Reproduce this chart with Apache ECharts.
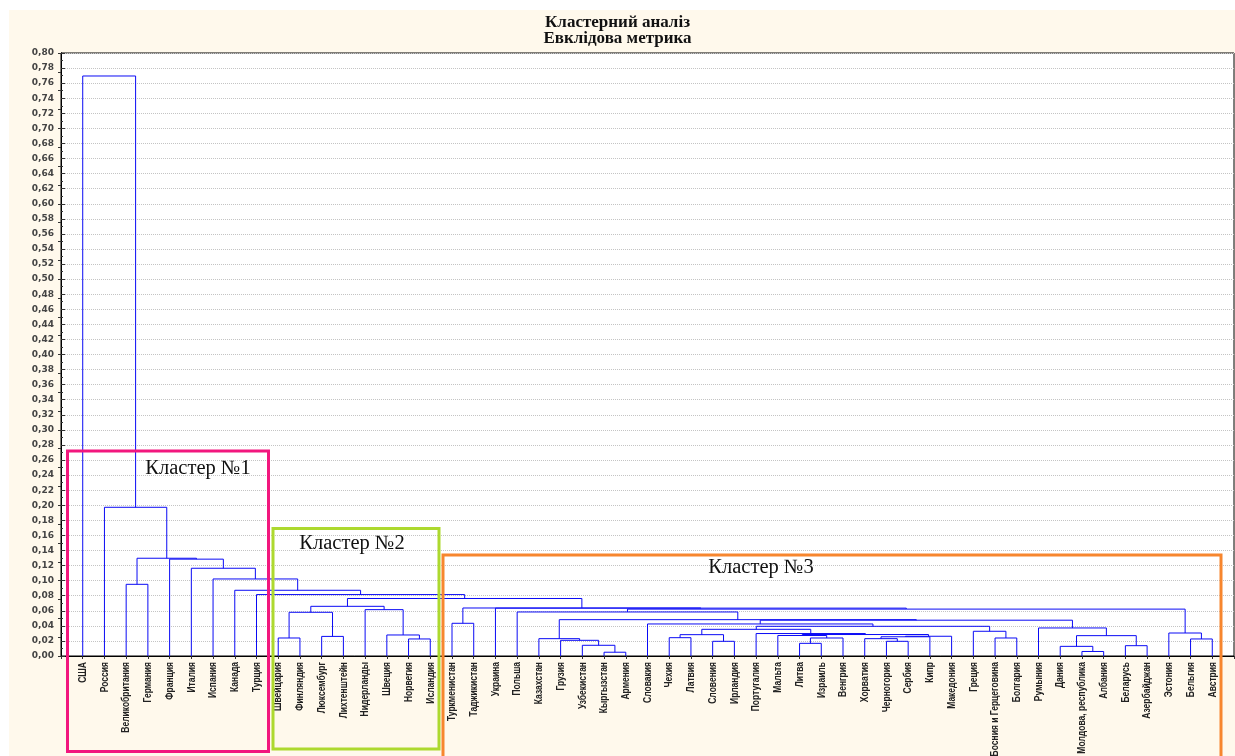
<!DOCTYPE html>
<html>
<head>
<meta charset="utf-8">
<title>Кластерний аналіз</title>
<script src="https://cdn.jsdelivr.net/npm/echarts/dist/echarts.min.js"></script>
<style>
    html, body { margin: 0; padding: 0; background: #fff; }
    #chart { width: 1235px; height: 756px; }
</style>
</head>
<body>
<div id="chart"></div>
<script>
// листья дендрограммы (порядок слева направо)
var leaves = ['США', 'Россия', 'Великобритания', 'Германия', 'Франция', 'Италия', 'Испания', 'Канада', 'Турция',
    'Швейцария', 'Финляндия', 'Люксембург', 'Лихтенштейн', 'Нидерланды', 'Швеция', 'Норвегия', 'Исландия',
    'Туркменистан', 'Таджикистан', 'Украина', 'Польша', 'Казахстан', 'Грузия', 'Узбекистан', 'Кыргызстан',
    'Армения', 'Словакия', 'Чехия', 'Латвия', 'Словения', 'Ирландия', 'Португалия', 'Мальта', 'Литва',
    'Израиль', 'Венгрия', 'Хорватия', 'Черногория', 'Сербия', 'Кипр', 'Македония', 'Греция',
    'Босния и Герцеговина', 'Болгария', 'Румыния', 'Дания', 'Молдова, республика', 'Албания', 'Беларусь',
    'Азербайджан', 'Эстония', 'Бельгия', 'Австрия'];

// объединения: [левый, правый, расстояние]; 'kN' - узел из строки N
var merges = [
    ['Кыргызстан', 'Армения', 0.005],          // k0
    ['Молдова, республика', 'Албания', 0.006], // k1
    ['Дания', 'k1', 0.0128],                   // k2
    ['Беларусь', 'Азербайджан', 0.0137],       // k3
    ['Узбекистан', 'k0', 0.0142],              // k4
    ['Литва', 'Израиль', 0.0168],              // k5
    ['Словения', 'Ирландия', 0.0195],          // k6
    ['Черногория', 'Сербия', 0.0195],          // k7
    ['Грузия', 'k4', 0.0208],                  // k8
    ['Норвегия', 'Исландия', 0.0226],          // k9
    ['Бельгия', 'Австрия', 0.0226],            // k10
    ['Казахстан', 'k8', 0.023],                // k11
    ['Хорватия', 'k7', 0.023],                 // k12
    ['Швейцария', 'Финляндия', 0.0239],        // k13
    ['k5', 'Венгрия', 0.0239],                 // k14
    ['Босния и Герцеговина', 'Болгария', 0.0239], // k15
    ['Чехия', 'Латвия', 0.0243],               // k16
    ['Люксембург', 'Лихтенштейн', 0.026],      // k17
    ['k12', 'Кипр', 0.0255],                   // k18
    ['k18', 'Македония', 0.0262],              // k19
    ['k2', 'k3', 0.027],                       // k20
    ['Мальта', 'k14', 0.0272],                 // k21
    ['Швеция', 'k9', 0.0279],                  // k22
    ['k16', 'k6', 0.0283],                     // k23
    ['k21', 'k19', 0.0285],                    // k24
    ['Эстония', 'k10', 0.0305],                // k25
    ['Португалия', 'k24', 0.0298],             // k26
    ['Греция', 'k15', 0.0328],                 // k27
    ['k23', 'k26', 0.0354],                    // k28
    ['Румыния', 'k20', 0.0372],                // k29
    ['k28', 'k27', 0.0394],                    // k30
    ['Словакия', 'k30', 0.0425],               // k31
    ['Туркменистан', 'Таджикистан', 0.0434],   // k32
    ['k31', 'k29', 0.0475],                    // k33
    ['k11', 'k33', 0.0482],                    // k34
    ['k13', 'k17', 0.058],                     // k35
    ['Польша', 'k34', 0.0584],                 // k36
    ['Нидерланды', 'k22', 0.0615],             // k37
    ['k36', 'k25', 0.0622],                    // k38
    ['Украина', 'k38', 0.0635],                // k39
    ['k32', 'k39', 0.0637],                    // k40
    ['k35', 'k37', 0.0659],                    // k41
    ['k41', 'k40', 0.0763],                    // k42
    ['Турция', 'k42', 0.0815],                 // k43
    ['Канада', 'k43', 0.0872],                 // k44
    ['Великобритания', 'Германия', 0.0951],    // k45
    ['Испания', 'k44', 0.1022],                // k46
    ['Италия', 'k46', 0.1164],                 // k47
    ['Франция', 'k47', 0.1285],                // k48
    ['k45', 'k48', 0.1297],                    // k49
    ['Россия', 'k49', 0.1973],                 // k50
    ['США', 'k50', 0.7695]                     // k51
];

// рамки кластеров
var clusterNames = ['Кластер №1', 'Кластер №2', 'Кластер №3'];
var clusterColors = ['#F2177E', '#ADD92F', '#F7862E'];

// координаты узлов: x - номер листа, h - расстояние объединения
var pos = {};
leaves.forEach(function (name, i) {
    pos[name] = {x: i + 1, h: 0};
});
var links = [];
merges.forEach(function (m, i) {
    var a = pos[m[0]], b = pos[m[1]];
    links.push([a.x, a.h, b.x, b.h, m[2]]);
    pos['k' + i] = {x: (a.x + b.x) / 2, h: m[2]};
});

var myChart = echarts.init(document.getElementById('chart'));

var clusterFont = '20.5px "Liberation Serif"';
var baseGraphic = [
    // кремовый фон вокруг графика
    {type: 'rect', z: -10, shape: {x: 9, y: 10, width: 1226, height: 746}, style: {fill: '#FFF9EC'}},
    // рамки кластеров
    {type: 'rect', z: 100, shape: {x: 67.5, y: 451, width: 201, height: 300.5}, style: {fill: null, stroke: clusterColors[0], lineWidth: 3}},
    {type: 'rect', z: 100, shape: {x: 273, y: 528.5, width: 166, height: 220.5}, style: {fill: null, stroke: clusterColors[1], lineWidth: 3}},
    {type: 'rect', z: 100, shape: {x: 443, y: 555, width: 778, height: 215}, style: {fill: null, stroke: clusterColors[2], lineWidth: 3}},
    {type: 'text', z: 100, x: 198, y: 469, style: {text: clusterNames[0], font: clusterFont, fill: '#111', textAlign: 'center', textVerticalAlign: 'middle'}},
    {type: 'text', z: 100, x: 352, y: 544, style: {text: clusterNames[1], font: clusterFont, fill: '#111', textAlign: 'center', textVerticalAlign: 'middle'}},
    {type: 'text', z: 100, x: 761, y: 568, style: {text: clusterNames[2], font: clusterFont, fill: '#111', textAlign: 'center', textVerticalAlign: 'middle'}}
];

var option = {
    animation: false,
    backgroundColor: '#fff',
    title: {
        text: 'Кластерний аналіз\nЕвклідова метрика',
        left: 'center',
        top: 10,
        textStyle: {
            fontFamily: 'Liberation Serif',
            fontWeight: 'bold',
            fontSize: 17,
            lineHeight: 16,
            color: '#111'
        }
    },
    grid: {
        left: 61,
        top: 53,
        width: 1173,
        height: 603,
        outerBoundsMode: 'none',
        containLabel: false,
        show: true,
        backgroundColor: '#fff',
        borderColor: '#000',
        borderWidth: 1
    },
    xAxis: [
        {
            type: 'value',
            min: 0,
            max: leaves.length + 1,
            interval: 1,
            splitLine: {show: false},
            axisLine: {lineStyle: {color: '#000', width: 1}},
            axisTick: {show: false},
            axisLabel: {show: false}
        },
        {
            type: 'value',
            position: 'top',
            min: 0,
            max: leaves.length + 1,
            interval: 1,
            splitLine: {show: false},
            axisLine: {lineStyle: {color: '#000', width: 1}},
            axisTick: {inside: true, length: 3, lineStyle: {color: '#333'}},
            axisLabel: {show: false}
        }
    ],
    yAxis: [
        {
            type: 'value',
            min: 0,
            max: 0.8,
            interval: 0.02,
            axisLine: {show: true, lineStyle: {color: '#000', width: 1}},
            axisTick: {inside: true, length: 4, lineStyle: {color: '#333'}},
            minorTick: {show: true, splitNumber: 2, length: 2, lineStyle: {color: '#333'}},
            splitLine: {lineStyle: {color: '#c4c4c4', type: 'dotted', width: 1}},
            axisLabel: {
                margin: 7,
                fontFamily: 'DejaVu Sans',
                fontWeight: 'bold',
                fontSize: 9,
                color: '#444',
                formatter: function (v) {
                    return v.toFixed(2).replace('.', ',');
                }
            }
        },
        {
            type: 'value',
            position: 'right',
            min: 0,
            max: 0.8,
            interval: 0.025,
            axisLine: {show: true, lineStyle: {color: '#000', width: 1}},
            axisTick: {inside: true, length: 3, lineStyle: {color: '#333'}},
            splitLine: {show: false},
            axisLabel: {show: false}
        }
    ],
    series: [
        {
            type: 'custom',
            xAxisIndex: 0,
            yAxisIndex: 0,
            data: links,
            renderItem: function (params, api) {
                var p1 = api.coord([api.value(0), api.value(1)]);
                var p2 = api.coord([api.value(0), api.value(4)]);
                var p3 = api.coord([api.value(2), api.value(4)]);
                var p4 = api.coord([api.value(2), api.value(3)]);
                return {
                    type: 'polyline',
                    shape: {points: [p1, p2, p3, p4]},
                    style: {stroke: '#0A0AF5', lineWidth: 1, fill: null}
                };
            }
        }
    ],
    graphic: baseGraphic
};

myChart.setOption(option);

// подписи листьев: узкий вертикальный шрифт, позиция берётся из оси
var labelGraphic = leaves.map(function (name, i) {
    var p = myChart.convertToPixel({xAxisIndex: 0, yAxisIndex: 0}, [i + 1, 0]);
    return {
        type: 'text',
        z: 50,
        x: p[0] + 0.5,
        y: p[1] + 6,
        rotation: Math.PI / 2,
        scaleX: 0.85,
        style: {
            text: name,
            font: 'bold 10px "Liberation Sans", Arial, sans-serif',
            fill: '#222',
            textAlign: 'right',
            textVerticalAlign: 'middle'
        }
    };
});
myChart.setOption({graphic: baseGraphic.concat(labelGraphic)});
</script>
</body>
</html>
